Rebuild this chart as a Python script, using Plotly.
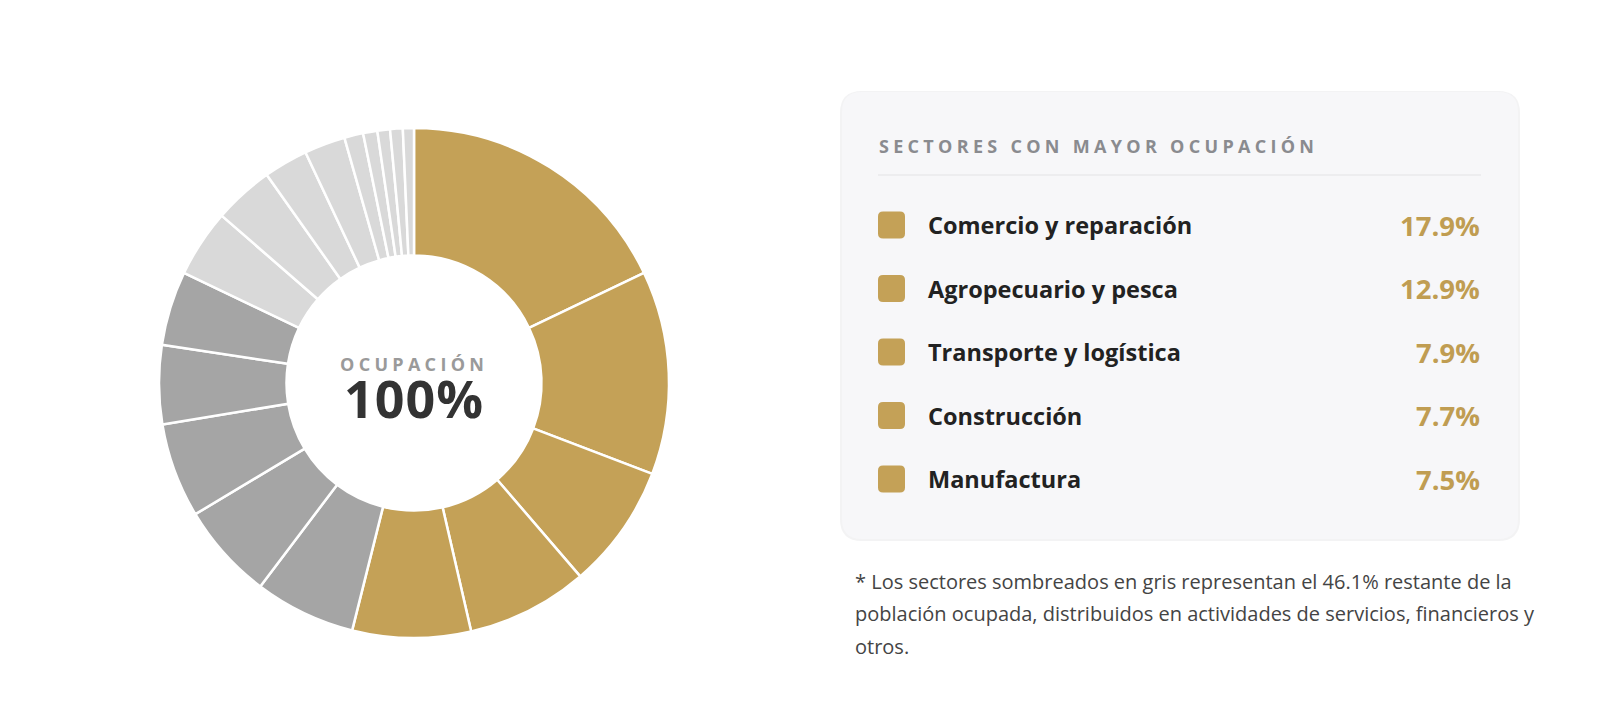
import plotly.graph_objects as go

# datos (porcentaje de la población ocupada)
sectores_top = ["Comercio y reparación", "Agropecuario y pesca", "Transporte y logística",
                "Construcción", "Manufactura"]
valores_top = [17.9, 12.9, 7.9, 7.7, 7.5]
grises_oscuros = [6.4, 6.1, 6.0, 5.0, 4.7]
grises_claros = [4.3, 3.8, 2.8, 2.6, 1.2, 0.9, 0.8, 0.8, 0.7]

ORO = "#C4A157"
GRIS_OSC = "#A5A5A5"
GRIS_CLA = "#D9D9D9"
FONT = "Open Sans"

W, H = 1600, 705

valores = valores_top + grises_oscuros + grises_claros
etiquetas = sectores_top + ["Otros %d" % (i + 1) for i in range(len(grises_oscuros) + len(grises_claros))]
colores = [ORO] * len(valores_top) + [GRIS_OSC] * len(grises_oscuros) + [GRIS_CLA] * len(grises_claros)

# donut
cx, cy, r = 406, 375, 255
fig = go.Figure(go.Pie(
    values=valores, labels=etiquetas, sort=False, direction="clockwise", rotation=0,
    hole=0.5, textinfo="none", hoverinfo="label+value",
    marker=dict(colors=colores, line=dict(color="white", width=2.5)),
    domain=dict(x=[(cx - r) / W, (cx + r) / W], y=[(H - cy - r) / H, (H - cy + r) / H]),
    showlegend=False,
))


def rrect(x0, y0, x1, y1, rad):
    return (f"M {x0+rad},{y0} L {x1-rad},{y0} Q {x1},{y0} {x1},{y0+rad} "
            f"L {x1},{y1-rad} Q {x1},{y1} {x1-rad},{y1} L {x0+rad},{y1} "
            f"Q {x0},{y1} {x0},{y1-rad} L {x0},{y0+rad} Q {x0},{y0} {x0+rad},{y0} Z")


shapes = []
# sombra suave + panel
shapes.append(dict(type="path", xref="x", yref="y", path=rrect(832, 83, 1512, 533, 22),
                   fillcolor="#F3F3F4", line=dict(width=0), layer="below"))
shapes.append(dict(type="path", xref="x", yref="y", path=rrect(834, 84, 1510, 531, 20),
                   fillcolor="#F7F7F9", line=dict(width=0), layer="below"))
# divisor
shapes.append(dict(type="line", xref="x", yref="y", x0=870, x1=1473, y0=167, y1=167,
                   line=dict(color="#E3E3E6", width=1.2)))

ann = []
ann.append(dict(x=869, y=138, xref="x", yref="y", xanchor="left", yanchor="middle", showarrow=False,
                text='<span style="letter-spacing:4.3px"><b>SECTORES CON MAYOR OCUPACIÓN</b></span>',
                font=dict(family=FONT, size=18, color="#8A8B8F")))

y0, paso = 217, 63.5
for i, (s, v) in enumerate(zip(sectores_top, valores_top)):
    yy = y0 + i * paso
    shapes.append(dict(type="path", xref="x", yref="y", path=rrect(870, yy - 13.5, 897, yy + 13.5, 5),
                       fillcolor=ORO, line=dict(width=0)))
    ann.append(dict(x=918, y=yy, xref="x", yref="y", xanchor="left", yanchor="middle", showarrow=False,
                    text="<b>%s</b>" % s, font=dict(family=FONT, size=23.5, color="#222222")))
    ann.append(dict(x=1474, y=yy, xref="x", yref="y", xanchor="right", yanchor="middle", showarrow=False,
                    text="<b>%.1f%%</b>" % v, font=dict(family=FONT, size=27.5, color="#C09D52")))

# texto central
ann.append(dict(x=cx, y=356, xref="x", yref="y", xanchor="center", yanchor="middle", showarrow=False,
                text='<span style="letter-spacing:4.3px"><b>OCUPACIÓN</b></span>',
                font=dict(family=FONT, size=18, color="#9A9A9A")))
ann.append(dict(x=cx, y=389, xref="x", yref="y", xanchor="center", yanchor="middle", showarrow=False,
                text='<span style="letter-spacing:1px"><b>100%</b></span>',
                font=dict(family=FONT, size=52, color="#333333")))

resto = round(100 - sum(valores_top), 1)
nota = ["* Los sectores sombreados en gris representan el %.1f%% restante de la" % resto,
        "población ocupada, distribuidos en actividades de servicios, financieros y",
        "otros."]
for i, linea in enumerate(nota):
    ann.append(dict(x=845, y=573 + i * 32.5, xref="x", yref="y", xanchor="left", yanchor="middle",
                    showarrow=False, text=linea,
                    font=dict(family=FONT, size=20, color="#444444")))

fig.update_layout(
    width=W, height=H, margin=dict(l=0, r=0, t=0, b=0),
    paper_bgcolor="white", plot_bgcolor="rgba(0,0,0,0)",
    xaxis=dict(range=[0, W], visible=False, fixedrange=True),
    yaxis=dict(range=[H, 0], visible=False, fixedrange=True),
    shapes=shapes, annotations=ann,
)

fig.write_html("out.html")
